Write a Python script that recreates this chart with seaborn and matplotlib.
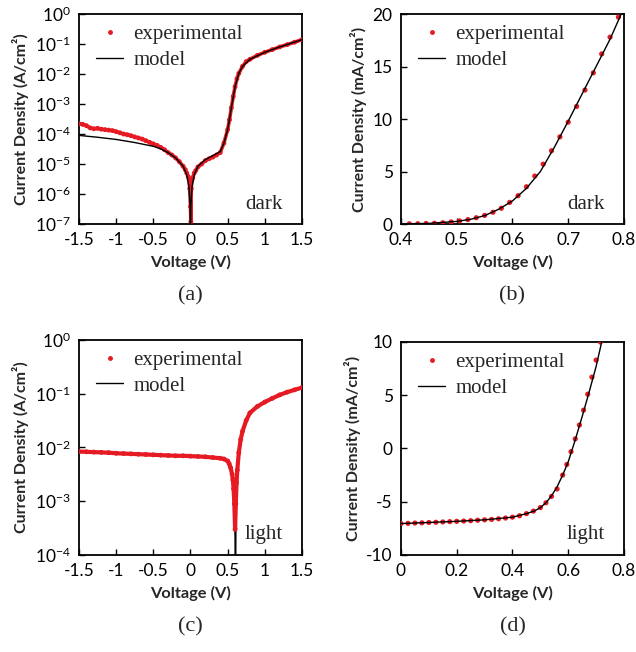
import seaborn as sns
import matplotlib.pyplot as plt
from matplotlib.lines import Line2D

# (a) dark, log scale
va_exp = [-1.5, -1.45, -1.4, -1.35, -1.3, -1.25, -1.2, -1.15, -1.1, -1.05, -1.0, -0.95, -0.9, -0.85,
          -0.8, -0.75, -0.7, -0.65, -0.6, -0.55, -0.5, -0.45, -0.4, -0.35, -0.3, -0.25, -0.2, -0.15,
          -0.1, -0.07, -0.05, -0.03, -0.02, -0.01, 0.0, 0.005, 0.01, 0.02, 0.03, 0.05, 0.07, 0.1,
          0.15, 0.2, 0.25, 0.3, 0.35, 0.4, 0.45, 0.5, 0.525, 0.55, 0.575, 0.6, 0.625, 0.65, 0.7,
          0.75, 0.8, 0.9, 1.0, 1.1, 1.2, 1.3, 1.4, 1.5]
ja_exp = [2.2e-4, 2.1e-4, 1.9e-4, 1.6e-4, 1.5e-4, 1.55e-4, 1.45e-4, 1.4e-4, 1.35e-4, 1.3e-4, 1.2e-4,
          1.1e-4, 1.0e-4, 9.5e-5, 8.8e-5, 8.0e-5, 7.4e-5, 6.8e-5, 6.0e-5, 5.3e-5, 4.7e-5, 4.2e-5,
          3.6e-5, 3.0e-5, 2.4e-5, 2.0e-5, 1.6e-5, 1.2e-5, 8.5e-6, 6.5e-6, 5.0e-6, 3.8e-6, 3.2e-6,
          1.5e-6, 3.8e-7, 1.2e-7, 1.5e-6, 3.0e-6, 3.5e-6, 5.0e-6, 6.0e-6, 8.0e-6, 1.0e-5, 1.3e-5,
          1.5e-5, 1.7e-5, 2.0e-5, 2.4e-5, 5.0e-5, 1.4e-4, 3.0e-4, 7.5e-4, 1.8e-3, 3.8e-3, 7.0e-3,
          1.05e-2, 1.8e-2, 2.6e-2, 3.1e-2, 4.2e-2, 5.3e-2, 6.5e-2, 8.0e-2, 9.5e-2, 1.15e-1, 1.4e-1]
va_mod = [-1.5, -1.25, -1.0, -0.75, -0.5, -0.4, -0.3, -0.2, -0.1, -0.05, -0.02, -0.005, 0.0, 0.005,
          0.02, 0.05, 0.1, 0.2, 0.3, 0.4, 0.45, 0.5, 0.55, 0.6, 0.65, 0.7, 0.8, 1.0, 1.2, 1.5]
ja_mod = [9.0e-5, 7.8e-5, 6.6e-5, 5.2e-5, 3.9e-5, 3.2e-5, 2.4e-5, 1.6e-5, 8.5e-6, 4.3e-6, 1.7e-6,
          4e-7, 1e-8, 4e-7, 1.7e-6, 4.3e-6, 8.5e-6, 1.4e-5, 1.9e-5, 2.6e-5, 5e-5, 1.4e-4, 7.5e-4,
          3.8e-3, 1.05e-2, 1.8e-2, 3.1e-2, 5.3e-2, 8e-2, 1.4e-1]

# (b) dark, linear
vb_exp = [0.415, 0.43, 0.445, 0.46, 0.475, 0.49, 0.505, 0.52, 0.535, 0.55, 0.565, 0.58, 0.595,
          0.61, 0.625, 0.64, 0.655, 0.67, 0.685, 0.70, 0.715, 0.73, 0.745, 0.76, 0.775, 0.79]
jb_exp = [0.02, 0.03, 0.05, 0.07, 0.12, 0.2, 0.3, 0.42, 0.6, 0.82, 1.12, 1.5, 2.06, 2.7, 3.55,
          4.57, 5.7, 6.98, 8.3, 9.7, 11.2, 12.76, 14.4, 16.2, 17.8, 19.7]
vb_mod = [0.4, 0.45, 0.5, 0.525, 0.55, 0.575, 0.6, 0.625, 0.65, 0.675, 0.7, 0.725, 0.75, 0.775, 0.795]
jb_mod = [0.01, 0.06, 0.25, 0.45, 0.8, 1.4, 2.2, 3.4, 5.0, 7.3, 9.8, 12.4, 15.0, 17.6, 20.0]

# (c) light, log scale
vc_exp = [-1.5, -1.4, -1.3, -1.2, -1.1, -1.0, -0.9, -0.8, -0.7, -0.6, -0.5, -0.4, -0.3, -0.2, -0.1,
          0.0, 0.1, 0.2, 0.3, 0.4, 0.45, 0.5, 0.52, 0.54, 0.56, 0.57, 0.58, 0.59, 0.6, 0.61, 0.62,
          0.63, 0.65, 0.675, 0.7, 0.75, 0.8, 0.9, 1.0, 1.1, 1.2, 1.3, 1.4, 1.5]
jc_exp = [8.4e-3, 8.3e-3, 8.2e-3, 8.1e-3, 8.0e-3, 7.8e-3, 7.7e-3, 7.6e-3, 7.5e-3, 7.4e-3, 7.3e-3,
          7.2e-3, 7.1e-3, 7.0e-3, 7.0e-3, 6.9e-3, 6.8e-3, 6.7e-3, 6.5e-3, 6.3e-3, 6.1e-3, 5.6e-3,
          5.0e-3, 4.2e-3, 3.2e-3, 2.5e-3, 1.7e-3, 9e-4, 3e-4, 9e-4, 2.2e-3, 3.8e-3, 8e-3, 1.4e-2,
          2.0e-2, 3.2e-2, 4.4e-2, 5.8e-2, 7.0e-2, 8.2e-2, 9.5e-2, 1.07e-1, 1.18e-1, 1.3e-1]
vc_mod = [-1.5, -1.0, -0.5, 0.0, 0.3, 0.45, 0.5, 0.54, 0.57, 0.59, 0.6, 0.605, 0.61, 0.62, 0.65,
          0.7, 0.8, 1.0, 1.2, 1.5]
jc_mod = [8.4e-3, 7.8e-3, 7.3e-3, 6.9e-3, 6.5e-3, 6.1e-3, 5.6e-3, 4.2e-3, 2.5e-3, 9e-4, 2e-4, 1e-6,
          2e-4, 2.2e-3, 8e-3, 2e-2, 4.4e-2, 7e-2, 9.5e-2, 1.3e-1]

# (d) light, linear
vd_exp = [0.0, 0.025, 0.05, 0.075, 0.1, 0.125, 0.15, 0.175, 0.2, 0.225, 0.25, 0.275, 0.3, 0.325,
          0.35, 0.375, 0.4, 0.425, 0.45, 0.475, 0.5, 0.52, 0.54, 0.56, 0.58, 0.595, 0.61, 0.625,
          0.64, 0.655, 0.67, 0.685, 0.7, 0.715]
jd_exp = [-7.05, -7.03, -7.0, -6.98, -6.95, -6.93, -6.9, -6.87, -6.84, -6.81, -6.78, -6.74, -6.7,
          -6.66, -6.6, -6.53, -6.45, -6.32, -6.12, -5.88, -5.55, -5.1, -4.5, -3.8, -2.5, -1.5, -0.3,
          0.9, 2.2, 3.6, 5.1, 6.7, 8.3, 10.0]
vd_mod = [0.0, 0.1, 0.2, 0.3, 0.4, 0.45, 0.48, 0.5, 0.52, 0.54, 0.56, 0.58, 0.6, 0.625, 0.65, 0.675,
          0.7, 0.72]
jd_mod = [-7.05, -6.95, -6.84, -6.7, -6.45, -6.12, -5.85, -5.55, -5.1, -4.45, -3.6, -2.5, -1.25,
          0.8, 3.0, 5.3, 7.7, 10.0]

RED = '#e51a22'
sns.set_style('ticks')
plt.rcParams['font.family'] = ['Lato', 'DejaVu Sans']
plt.rcParams['xtick.direction'] = 'in'
plt.rcParams['ytick.direction'] = 'in'
serif = {'family': 'Liberation Serif', 'size': 15}

fig = plt.figure(figsize=(6.36, 6.52), dpi=100)
boxes = [[0.1242, 0.6564, 0.3506, 0.3221], [0.6305, 0.6564, 0.3506, 0.3221],
         [0.1242, 0.1488, 0.3506, 0.3298], [0.6305, 0.1488, 0.3506, 0.3267]]
axes = [fig.add_axes(b) for b in boxes]

panels = [
    (va_exp, ja_exp, va_mod, ja_mod, True, 'dark', 'Current Density (A/cm²)', (-1.5, 1.5), (1e-7, 1), '(a)'),
    (vb_exp, jb_exp, vb_mod, jb_mod, False, 'dark', 'Current Density (mA/cm²)', (0.4, 0.8), (0, 20), '(b)'),
    (vc_exp, jc_exp, vc_mod, jc_mod, True, 'light', 'Current Density (A/cm²)', (-1.5, 1.5), (1e-4, 1), '(c)'),
    (vd_exp, jd_exp, vd_mod, jd_mod, False, 'light', 'Current Density (mA/cm²)', (0, 0.8), (-10, 10), '(d)'),
]

for i, (ax, (vx, jx, vm, jm, logy, cond, ylab, xl, yl, tag)) in enumerate(zip(axes, panels)):
    if logy:
        ax.set_yscale('log')
        # model over the red band in (a), under it in (c)
        mz = 4 if i == 0 else 2
        sns.lineplot(x=vm, y=jm, ax=ax, color='black', lw=1.0, estimator=None, sort=False, zorder=mz)
        # dense experimental trace drawn as a thick red band
        sns.lineplot(x=vx, y=jx, ax=ax, color=RED, lw=2.6 if i == 0 else 3.0,
                     estimator=None, sort=False, zorder=3)
        sns.scatterplot(x=vx, y=jx, ax=ax, color=RED, s=12, edgecolor='none', zorder=3)
    else:
        sns.scatterplot(x=vx, y=jx, ax=ax, color=RED, s=14, edgecolor='none', zorder=3)
        sns.lineplot(x=vm, y=jm, ax=ax, color='black', lw=1.0, estimator=None, sort=False, zorder=4)

    ax.set_xlim(*xl)
    ax.set_ylim(*yl)
    if logy:
        ax.minorticks_off()
        lo = -7 if yl[0] < 1e-5 else -4
        ax.set_yticks([10.0 ** k for k in range(lo, 1)])
    if xl[0] == -1.5:
        ax.set_xticks([-1.5, -1, -0.5, 0, 0.5, 1, 1.5])
        ax.set_xticklabels(['-1.5', '-1', '-0.5', '0', '0.5', '1', '1.5'])
    elif xl[0] == 0.4:
        ax.set_xticks([0.4, 0.5, 0.6, 0.7, 0.8])
        ax.set_xticklabels(['0.4', '0.5', '0.6', '0.7', '0.8'])
    else:
        ax.set_xticks([0, 0.2, 0.4, 0.6, 0.8])
        ax.set_xticklabels(['0', '0.2', '0.4', '0.6', '0.8'])
    if not logy:
        if yl[0] == 0:
            ax.set_yticks([0, 5, 10, 15, 20])
        else:
            ax.set_yticks([-10, -5, 0, 5, 10])
            ax.set_yticklabels(['-10', '-5', '0', '5', '10'])
    ax.tick_params(labelsize=12.5, length=4, width=1, pad=6, colors='black')
    for s in ax.spines.values():
        s.set_linewidth(1.3)
        s.set_color('black')

    ax.set_xlabel('Voltage (V)', fontsize=11.8, fontweight='bold', labelpad=5)
    ax.set_ylabel(ylab, fontsize=11.5, fontweight='bold', labelpad=4)
    ax.text(0.915, 0.095, cond, transform=ax.transAxes, ha='right', va='center', fontdict=serif)

    handles = [Line2D([], [], ls='none', marker='o', ms=3.5, color=RED, mec='none'),
               Line2D([], [], color='black', lw=1.0)]
    ax.legend(handles, ['experimental', 'model'], loc='upper left', frameon=False, prop=serif,
              handlelength=1.3, handletextpad=0.5, labelspacing=0.3, borderaxespad=0.1,
              bbox_to_anchor=(0.03, 1.0))

    bb = ax.get_position()
    fig.text(bb.x0 + bb.width / 2, bb.y0 - 0.11, tag, ha='center', va='center',
             fontdict={'family': 'Liberation Serif', 'size': 16})

fig.savefig('out.png', dpi=100)
